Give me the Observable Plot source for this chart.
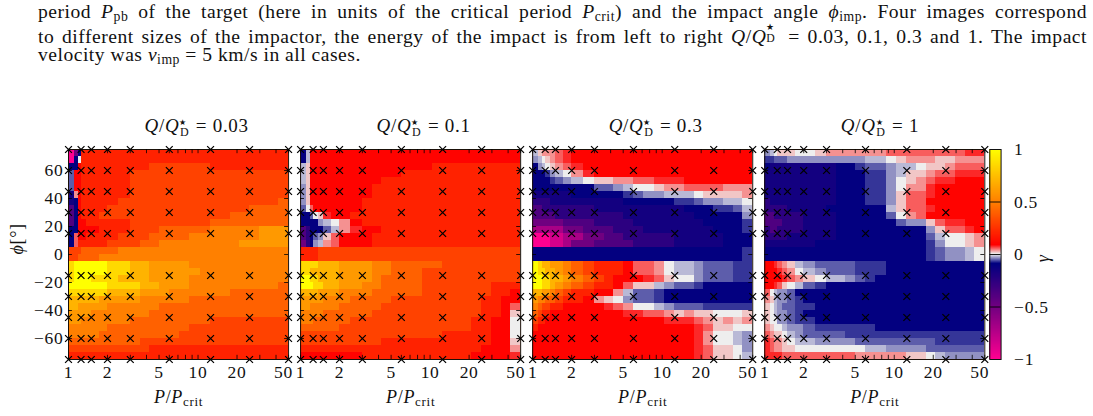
<!DOCTYPE html>
<html><head><meta charset="utf-8">
<script src="https://cdn.jsdelivr.net/npm/d3@7"></script>
<script src="https://cdn.jsdelivr.net/npm/@observablehq/plot@0.6"></script>
<style>
html,body{margin:0;padding:0;background:#fff;overflow:hidden;width:1093px;height:416px}
#page{position:relative;width:1093px;height:416px;font-family:"Liberation Serif",serif;color:#111}
.ln{position:absolute;left:38px;width:1049px;font-size:19.6px;line-height:22px;white-space:nowrap;letter-spacing:.5px}
.j{text-align:justify;text-align-last:justify;white-space:normal}
.ln sub{font-size:.7em;line-height:0;vertical-align:-.25em}
.ss{display:inline-block;position:relative;width:.72em;height:1em}
.ss b{position:absolute;left:0;font-weight:normal;font-size:.6em;line-height:1}
#main,#bar{position:absolute;top:110px}
#main{left:0}#bar{left:980px}
#main text,#bar text{letter-spacing:.7px}
</style></head><body>
<div id="page">
<div class="ln j" style="top:1px">period <i>P</i><sub>pb</sub> of the target (here in units of the critical period <i>P</i><sub>crit</sub>) and the impact angle <i>ϕ</i><sub>imp</sub>. Four images correspond</div>
<div class="ln j" style="top:22.5px">to different sizes of the impactor, the energy of the impact is from left to right <i>Q</i>/<i>Q</i><span class="ss"><b style="top:.05em;font-size:.45em">★</b><b style="top:.9em">D</b></span> = 0.03, 0.1, 0.3 and 1. The impact</div>
<div class="ln" style="top:44px"><span>velocity was <i>v</i><sub>imp</sub> = 5 km/s in all cases.</span></div>
<div id="main"></div><div id="bar"></div>
</div>
<script>
const panels = ["0.03","0.1","0.3","1"];
const pGrid = [1,1.25,1.5,2,3,6,12.5,25,50];
const phiGrid = [75,60,45,30,15,-15,-30,-45,-60,-75];
const pEdges = [1,1.113,1.194,1.25,1.369,1.5,1.73,2,2.45,3,3.57,4.24,5.05,6,7.2,8.66,10.4,12.5,14.9,17.7,21,25,29.7,35.4,42,50];
const phiEdges = [75,70,65,60,55,50,45,40,35,30,25,20,15,10,5,0,-5,-10,-15,-20,-25,-30,-35,-40,-45,-50,-55,-60,-65,-70,-75];
const xTickMarks = [1,2,3,4,5,6,7,8,9,10,20,30,40,50];
const xTickLabels = [1,2,5,10,20];
const xLastLabel = [50];
const yTickValues = [-60,-40,-20,0,20,40,60];
const barTicks = [1,0.5,0,-0.5,-1];
const levelKey = "abcdefghijklmnopqrstuvwxyz";
const levelValues = [-1,-.85,-.7,-.5,-.38,-.25,-.16,-.1,-.07,-.055,-.035,-.02,0,.015,.035,.055,.075,.1,.2,.3,.4,.5,.6,.7,.85,1];
const colorDomain = [-1,-0.5,-0.09,0,0.09,0.5,1];
const colorRange = ["#ff0090","#700080","#000080","#eeeeee","#ff0000","#ff8000","#ffff00"];

const gammaA = [
"adhss sssss sssss sssss sssss","ahmss sssss sssss sssss sssss","hhrss sssss stttt ttsss sssss",
"jrrss sssst ttttt ttttt ttttt","jrrss sssst ttttt ttttt ttttt","jrrss sssst ttttt ttttt ttttt",
"gorss sssst ttttt ttttt ttttt","ghrss ssstt ttttt ttttt ttttu","ehrss ssttt ttttt ttttt tuuuu",
"ehrss stttt ttttt ttttu uuuuu","ehrrs sssst ttttt ttuuu uuuuu","hhrrr rssst ttuuu uuvvv vvwww",
"hprrs ssstt tuuuu vvvvv vvwww","hpsss ssttt uuvvv vvvvv wwwww","tttuu uuuvv vvvvv vvvvv vvvvv",
"ttuuu uvvvv vvvvv vvvvv vvvvv","yzzzz zzyyx xwwww vvvvv vvvvv","yzzzz zzyyx xwwww wvvvv vvvvv",
"yzzzz yyyxx xwwww vvvvv vvvvv","zzzzz zzyyy xxwww vvvvv vvvvu","yyyyy yyxxx wwwvv vvvvu uuuuu",
"xxxxx xwwww vvvvv uuuuu uuuuu","xxwww wwvvv vvuuu uuuuu uuuuu","wwwww vvvvv vuuuu uuuuu uuuuu",
"wwwvv vvvvu uuuuu uuttt ttttt","vvvvv vvuuu uuuuu ttttt ttttt","vvvvv vuuuu uuuut ttttt ttttt",
"uuuuu uuuuu ttttt ttttt ttttt","ttttt ttttt tssss sssss sssss","sssss sssss sssss sssss sssss"];
const gammaB = [
"hlrrr rrrrr rrrrr rrrrr rrrrr","hlrrr rrrrr rrrrr rrrrr rrrrr","lnrrr rrrrr rrrrr rssss sssss",
"lnrrr rrrrr rrrss sssss sssss","lnrrr rrrrr rssss sssss sssss","knrrr rrrrr sssss sssss sssss",
"knrrr rrrrr sssss sssss sssss","knrrr rrrrs sssss sssss sssss","jmprr rrrrs sssss sssss sssss",
"hhjmn qrrss sssss sssss sssss","hhhhk lmors sssss sssss sssss","efhhh jloqr rssss sssss sssss",
"efhjk nprrr sssss sssss sssss","dfhkl oprrr sssss sssss sssss","sssst ttttt ttttt ttttt ttttt",
"sssst ttttt ttttt ttttt ttttt","yyyyx xxwww vvuuu uuttt ttttt","yyxxx xxwww vvuuu ttttt ttttt",
"zzyyx xxwww vuuuu ttttt ttttt","zzzyy xxwwv vuuuu ttttt ttsss","xxxxw wwvvv uuuuu ttttt ttssr",
"wwwww vvvuu uuttt ttttt tssrr","wwvvv vvuuu utttt ttttt tssrp","vvvvv uuuuu ttttt ttttt tssrn",
"vvvuu uuutt ttttt ttttt ssrrm","uuuuu uuttt ttttt ttttt ssrrm","ttttt ttttt ttttt ttsss ssrrm",
"ttttt ttttt tssss sssss ssrrn","sssss sssss sssss sssss srrro","rrrrr rrrrs sssss sssss rrrrq"];
const gammaC = [
"lnooo pqrrr rrrrr rrrrr rrrrr","klmno pqrrr rrrrr rrrrr rrrrr","hklmn opqrr rrrrr rrrrr rrrrr",
"hhhik lmoqr rrrrr rrrrr rrrrr","hhhhi jklmn noopp qqqrr rrrrr","hhhhh hhhhj jklmm noopp ppooo",
"ggggg gghhh hhijk klllm nnnno","ffffg ggggg gghhh hhiij kkllm","eefff ffffg ggggg ggghh hiijl",
"eeeee fffff ffggg ggggh hhhhk","ddddd deeef fffgg ggggg hhhhi","ccccc cddee efffg ggggg ghhhi",
"aaaab bccdd eefff ffggg gghhh","aaaab bcdde eeeff ffggg gghhh","hhhhh hhhhh hhhhh hhhhh hhhhi",
"hhhhh hhhhh hhhhh hhhhh hhhhi","zyxxw wvuts ssrpp omllk jjjii","zyyxx wvuts ssrpp omllk jjjii",
"zzyyx xwvut srrrq pnmmk jjjii","zzyyx wvuts srpnn lkjji hhhhh","xxwwv utssr roljj ihhhh hhhhh",
"wvvuu tssro nmkjj ihhhh hhhhh","vutts srrrr qpomm lkjjj iiiii","utssr rrrrr rrqqp ponon nmmmn",
"tssrr rrrrr rrrrr rqqqp onono","srrrr rrrrr rrrrr rrrrq pnnmm","rrrrr rrrrr rrrrr rrrrq ommlk",
"rrrrr rrrrr rrrrr rrrrq ommlk","rrrrr rrrrr rrrrr rrrrq pnnmk","rrrrr rrrrr rrrrr rrrrq pnnml"];
const gammaD = [
"klmnn nmmno ooooo ppppp pppqq","iijjj kkkkk kkkll mnooo nnooo","hgggg ggggg hhijj kllmn noppp",
"ggggg ggggg hhhii klnno ppqqq","ggggg ggggg hhhii kmnop qqrrr","ggggg ggggg hhhii kmooq rrrrr",
"ggggg ggggg hhhii knppq rrrrr","fgggg ggggg hhhii knppr rrrrr","fffff ggggh hhhhh lnppq rrrrr",
"eefff ffggg hhhhh jmopr rrrrr","eeeef ffggg hhhhh hjkkn pqqrr","feeff ffggg hhhhh hhhhk nppqr",
"fffff ggggg hhhhh hhhhj lmmno","ggggg ggghh hhhhh hhhhi kmmno","hhhhh hhhhh hhhhh hhhhi jkklm",
"hhhhh hhhhh hhhhh hhhhi jkklm","rrqpo nlkjj jjiii hhhhh hhhhh","rrrqp omlkj jjiii hhhhh hhhhh",
"rrrrq ponml lkjih hhhhh hhhhh","rrqpn mljih hhhhh hhhhh hhhhh","pmlkk jhhhh hhhhh hhhhh hhhhh",
"onlkk jihhh hhhhh hhhhh hhhhh","nmlkj jiihh hhhhh hhhhh hhhhh","nmlkk jihhh hhhhh hhhhh hhhhh",
"nmmkk jiihh hhhhh hhhhh hhhhh","onmml kkjii iiiih hhhhh hhhhh","ponnm lkjjj jiiii iiiii iiiii",
"qpoon mllkk kkjjj jjjjj iiiii","qpoon nmmmm mmmll kkkkj jjjjj","qqqqp ppppp ppooo oonnm lkkkk"];
const grids = [gammaA,gammaB,gammaC,gammaD];

const cells = panels.flatMap((panel,k)=>grids[k].flatMap((row,i)=>
  [...row.replaceAll(" ","")].map((ch,j)=>({panel,x1:pEdges[j],x2:pEdges[j+1],y1:phiEdges[i],y2:phiEdges[i+1],g:levelValues[levelKey.indexOf(ch)]}))));
const points = panels.flatMap(panel=>pGrid.flatMap(p=>phiGrid.map(phi=>({panel,p,phi}))));
const colorScale = {type:"linear",domain:colorDomain,range:colorRange,interpolate:"rgb",clamp:true};
const FONT = '"Liberation Serif",serif';
const TITLE = d=>`Q/Q = ${d}`;

const main = Plot.plot({
  width:1093,height:306,marginLeft:68,marginRight:108.7,marginTop:39,marginBottom:57,
  style:{fontFamily:FONT,fontSize:"17px",color:"#111",background:"transparent"},
  fx:{domain:panels,axis:null,paddingInner:12/232,paddingOuter:0,round:false},
  x:{type:"log",domain:[1,50],axis:null},
  y:{domain:[-75,75],axis:null},
  color:colorScale,
  marks:[
    Plot.rect(cells,{fx:"panel",x1:"x1",x2:"x2",y1:"y1",y2:"y2",fill:"g",shapeRendering:"crispEdges"}),
    Plot.frame({stroke:"#1a1008",strokeWidth:1}),
    Plot.ruleX(xTickMarks,{x:d=>d,y1:-75,y2:-72,stroke:"#000",strokeWidth:.8}),
    Plot.ruleX(xTickMarks,{x:d=>d,y1:72,y2:75,stroke:"#000",strokeWidth:.8}),
    Plot.ruleY(yTickValues,{y:d=>d,x1:1,x2:1.072,stroke:"#000",strokeWidth:.8}),
    Plot.ruleY(yTickValues,{y:d=>d,x1:46.6,x2:50,stroke:"#000",strokeWidth:.8}),
    Plot.dot(points,{fx:"panel",x:"p",y:"phi",symbol:"times",r:3.2,stroke:"#000",strokeWidth:1.25}),
    Plot.text(xTickLabels,{x:d=>d,frameAnchor:"bottom",dy:18,text:d=>String(d),fontSize:17.5}),
    Plot.text(xLastLabel,{x:d=>d,frameAnchor:"bottom",dy:18,dx:-5,text:d=>String(d),fontSize:17.5}),
    Plot.axisY(yTickValues,{tickSize:0,tickPadding:5,label:null,tickFormat:d=>String(d).replace("-","−"),fontSize:17.5}),
    Plot.text(panels,{fx:d=>d,frameAnchor:"top-left",dx:76,dy:-31,text:TITLE,textAnchor:"start",fontSize:19}),
    Plot.text(panels,{fx:d=>d,frameAnchor:"bottom",dy:43,text:()=>"P/Pcrit",fontSize:18}),
    Plot.text(panels.slice(0,1),{fx:d=>d,frameAnchor:"left",dx:-51,rotate:-90,text:()=>"φ[°]",fontSize:18})
  ]
});

const bar = Plot.plot({
  width:113,height:306,marginLeft:9.3,marginRight:92.4,marginTop:39,marginBottom:57,
  style:{fontFamily:FONT,fontSize:"17px",color:"#111",background:"transparent"},
  x:{domain:[0,1],axis:null},
  y:{domain:[-1,1]},
  color:colorScale,
  marks:[
    Plot.rect(d3.range(-1,1,0.005),{x1:0,x2:1,y1:d=>d,y2:d=>d+0.006,fill:d=>d+0.0025,shapeRendering:"crispEdges"}),
    Plot.ruleY([-0.5,0,0.5],{stroke:"#000",strokeWidth:.9}),
    Plot.frame({stroke:"#111",strokeWidth:1}),
    Plot.axisY(barTicks,{anchor:"right",tickSize:0,tickPadding:13,label:null,tickFormat:d=>String(d).replace("-","−"),fontSize:17.5}),
    Plot.text(["γ"],{frameAnchor:"right",dx:42,rotate:-90,fontSize:18,fontStyle:"italic"})
  ]
});

function math(el,parts){
  while(el.firstChild) el.removeChild(el.firstChild);
  for(const [t,o] of parts){
    const s=document.createElementNS("http://www.w3.org/2000/svg","tspan");
    s.textContent=t;
    if(o.i) s.setAttribute("font-style","italic");
    if(o.fs) s.setAttribute("font-size",o.fs);
    if(o.dy) s.setAttribute("dy",o.dy);
    if(o.dx) s.setAttribute("dx",o.dx);
    el.appendChild(s);
  }
}
main.querySelectorAll("text").forEach(t=>{
  const c=t.textContent;
  if(c.startsWith("Q/Q = ")){
    math(t,[["Q",{i:1}],["/",{}],["Q",{i:1}],["★",{fs:8,dy:-7}],["D",{fs:12,dy:11,dx:-7}],[" = "+c.slice(6),{dy:-4,dx:1}]]);
  } else if(c==="P/Pcrit"){
    math(t,[["P",{i:1}],["/",{}],["P",{i:1}],["crit",{fs:13,dy:3}]]);
  } else if(c==="φ[°]"){
    math(t,[["ϕ",{i:1}],["[°]",{}]]);
  }
});
document.getElementById("main").appendChild(main);
document.getElementById("bar").appendChild(bar);
</script>
</body></html>
